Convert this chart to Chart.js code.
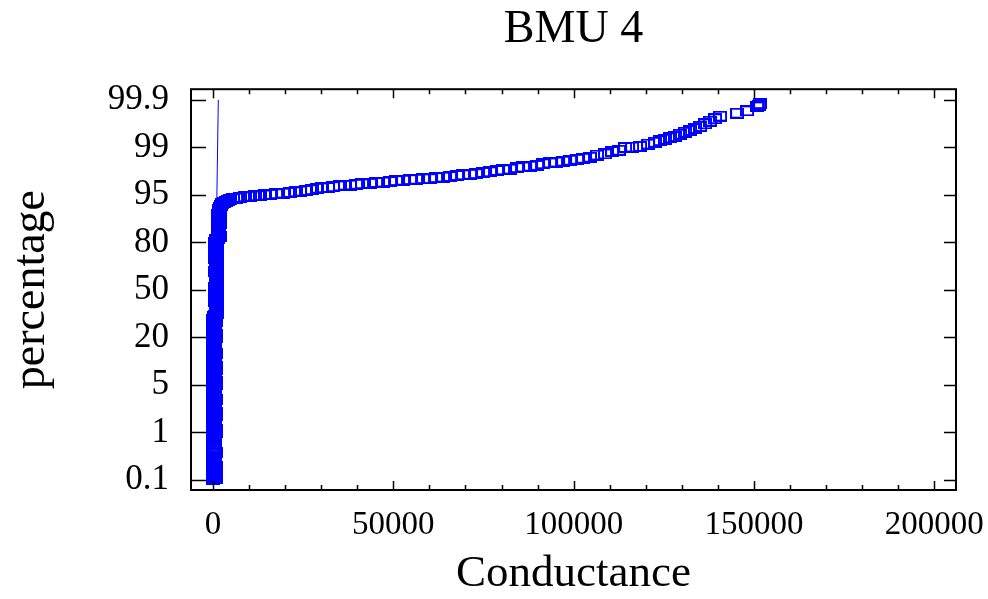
<!DOCTYPE html>
<html>
<head>
<meta charset="utf-8">
<script src="https://cdn.jsdelivr.net/npm/chart.js@4.4.1/dist/chart.umd.min.js"></script>
<style>
  html, body { margin: 0; padding: 0; background: #fff; }
  canvas { display: block; }
</style>
</head>
<body>
<canvas id="chart" width="988" height="599"></canvas>
<script>
// probability axis: tick percentages, drawn evenly spaced
const tickPercent = [0.1, 1, 5, 20, 50, 80, 95, 99, 99.9];
const tickLabels = ['0.1', '1', '5', '20', '50', '80', '95', '99', '99.9'];
const xTicks = [0, 50000, 100000, 150000, 200000];

// dense column of low conductance values
const columnCond = [
  0, 720, 360, 150, 560, 60, 650, 260, 470, 750, 30, 700, 390, 120, 590,
  40, 680, 230, 500, 740, 10, 610, 330, 90, 540, 20, 690, 280, 440, 730,
  0, 720, 360, 150, 560, 60, 650, 260, 470, 750, 30, 700, 390, 120, 590,
  40, 680, 230, 500, 740, 10, 610, 330, 90, 540, 20, 690, 280, 440, 730,
  0, 720, 360, 150, 560, 60, 650, 260, 470, 750, 30, 700, 390, 120, 590,
  40, 680, 230, 500, 740, 10, 610, 330, 90, 540, 20, 690, 280, 440, 730,
  0, 720, 360, 150, 560, 60, 650, 260, 470, 750, 30, 700, 390,
  640, 1190, 900, 760, 1080, 700, 1150, 840, 1000, 660,
  1170, 880, 740, 1060, 680, 1120, 820, 980, 650, 1180,
  920, 770, 1100, 710, 1140, 860, 1020, 670, 1160, 900,
  780, 1090, 720, 1190, 950, 660, 1130, 800, 1040, 690,
  1170, 870, 750, 1070, 640, 1150, 930,
  1300, 1850, 1550, 1400, 1750, 1350, 1800, 1500, 1650, 1900,
  1320, 1700, 1450, 1880, 1600, 1380, 1820
];
const columnPct = [
  0.100, 0.105, 0.11, 0.115, 0.12, 0.13, 0.14, 0.15, 0.16, 0.17,
  0.18, 0.195, 0.21, 0.23, 0.25, 0.27, 0.29, 0.32, 0.35, 0.38,
  0.42, 0.46, 0.5, 0.55, 0.6, 0.67, 0.74, 0.82, 0.9,
  1.0, 1.06, 1.12, 1.19, 1.26, 1.33, 1.41, 1.49, 1.58, 1.67,
  1.77, 1.87, 1.98, 2.09, 2.21, 2.33, 2.46, 2.6, 2.74, 2.89,
  3.05, 3.22, 3.4, 3.58, 3.77, 3.97, 4.18, 4.4, 4.65, 4.9,
  5.0, 5.25, 5.5, 5.8, 6.1, 6.4, 6.7, 7.0, 7.35, 7.7,
  8.1, 8.5, 8.9, 9.3, 9.8, 10.3, 10.8, 11.3, 11.8, 12.4,
  13.0, 13.6, 14.2, 14.9, 15.6, 16.3, 17.0, 17.7, 18.5, 19.3,
  20, 20.8, 21.6, 22.4, 23.2, 24.0, 24.9, 25.8, 26.7, 27.6,
  28.5, 29.5, 30.5, 31.5,
  32.5, 33.5, 34.5, 35.5, 36.5, 37.5, 38.6, 39.7, 40.8, 41.9,
  43, 44.1, 45.2, 46.3, 47.4, 48.5, 49.7, 50.9, 52.1, 53.3,
  54.5, 55.7, 56.9, 58.1, 59.3, 60.5, 61.7, 62.9, 64.1, 65.2,
  66.3, 67.4, 68.5, 69.6, 70.7, 71.7, 72.7, 73.7, 74.7, 75.6,
  76.5, 77.4, 78.3, 79.2, 80.0, 80.8, 81.6,
  82.2, 82.9, 83.6, 84.3, 85.0, 85.6, 86.2, 86.8, 87.4, 88.0,
  88.5, 89.0, 89.5, 90.0, 90.5, 91.0, 91.5
];

// upper tail
const curveCond = [
  1660, 1940, 2220, 2500, 3050, 3600, 4160, 4710, 5550, 6380,
  7490, 8870, 10260, 11650, 13030, 14420, 15810, 17470, 19410, 21350,
  23020, 24130, 25790, 27450, 28840, 30230, 31890, 33280, 35220, 36600,
  37990, 39650, 41320, 43540, 45200, 47140, 49080, 50750, 52690, 54630,
  56290, 58230, 60170, 61840, 63780, 65720, 67660, 69330, 71270, 72930,
  74870, 76810, 78750, 80420, 82360, 84300, 85960, 87900, 89850, 91510,
  93450, 95110, 97060, 99000, 100940, 102600, 104540, 106480, 108700, 110640,
  112580, 114250, 116190, 118410, 120630, 122570, 123950, 125340, 126730, 128120,
  129500, 130890, 132270, 133660, 135050, 136430, 137820, 139210, 140600, 145310,
  148080, 150860, 151410, 151690
];
const curvePct = [
  92.2, 92.7, 93.1, 93.4, 93.7, 93.9, 94.1, 94.25, 94.4, 94.5,
  94.6, 94.7, 94.8, 94.85, 94.9, 95.0, 95.1, 95.2, 95.3, 95.4,
  95.5, 95.6, 95.7, 95.8, 96.0, 96.05, 96.1, 96.2, 96.3, 96.4,
  96.4, 96.5, 96.55, 96.6, 96.7, 96.75, 96.8, 96.9, 96.95, 97.0,
  97.05, 97.1, 97.1, 97.2, 97.25, 97.3, 97.4, 97.45, 97.5, 97.55,
  97.65, 97.7, 97.8, 97.85, 97.9, 98.0, 98.05, 98.1, 98.15, 98.25,
  98.3, 98.35, 98.4, 98.45, 98.5, 98.55, 98.6, 98.7, 98.75, 98.85,
  98.9, 99.0, 99.02, 99.05, 99.15, 99.22, 99.28, 99.33, 99.37, 99.41,
  99.47, 99.52, 99.56, 99.6, 99.64, 99.68, 99.72, 99.75, 99.78, 99.81,
  99.83, 99.86, 99.87, 99.88
];

// fitted line
const fitCond = [-80, 1470];
const fitPct = [0.1, 99.9];

function logit(p) {
  const f = p / 100;
  return Math.log(f / (1 - f));
}
// percent -> position on the evenly spaced tick axis
function toAxis(p) {
  for (let i = 0; i < tickPercent.length - 1; i++) {
    const a = tickPercent[i], b = tickPercent[i + 1];
    if (p <= b || i === tickPercent.length - 2) {
      return i + (logit(p) - logit(a)) / (logit(b) - logit(a));
    }
  }
}

const cond = columnCond.concat(curveCond);
const pct = columnPct.concat(curvePct);
const points = cond.map((c, i) => ({ x: c, y: toAxis(pct[i]) }));
const fitPoints = fitCond.map((c, i) => ({ x: c, y: toAxis(fitPct[i]) }));

// open rectangle marker
const marker = document.createElement('canvas');
marker.width = 14;
marker.height = 11;
const mctx = marker.getContext('2d');
mctx.strokeStyle = '#0000ff';
mctx.lineWidth = 2;
mctx.strokeRect(1, 1, 12, 9);

const serif = 'Liberation Serif';

// frame and inward tick marks on all four sides
const frameTicks = {
  id: 'frameTicks',
  afterDraw(chart) {
    const { ctx, chartArea: a, scales: { x, y } } = chart;
    ctx.save();
    ctx.strokeStyle = '#000';
    ctx.lineWidth = 1.5;
    ctx.beginPath();
    for (let v = 0; v <= 200000; v += 10000) {
      const px = Math.round(x.getPixelForValue(v)) + 0.5;
      const len = v % 50000 === 0 ? 9 : 5;
      ctx.moveTo(px, a.bottom);
      ctx.lineTo(px, a.bottom - len);
      ctx.moveTo(px, a.top);
      ctx.lineTo(px, a.top + len);
    }
    for (let i = 0; i < tickPercent.length; i++) {
      const py = Math.round(y.getPixelForValue(i)) + 0.5;
      ctx.moveTo(a.left, py);
      ctx.lineTo(a.left + 15, py);
      ctx.moveTo(a.right, py);
      ctx.lineTo(a.right - 12, py);
    }
    ctx.stroke();
    ctx.lineWidth = 2;
    ctx.strokeRect(a.left, a.top, a.right - a.left, a.bottom - a.top);
    ctx.restore();
  }
};

const ctx = document.getElementById('chart').getContext('2d');
const chart = new Chart(ctx, {
  type: 'scatter',
  data: {
    datasets: [{
      label: 'fit',
      type: 'line',
      data: fitPoints,
      borderColor: '#0000ff',
      borderWidth: 1,
      pointRadius: 0,
      fill: false
    }, {
      label: 'BMU 4',
      data: points,
      pointStyle: marker,
      pointRadius: 5,
      borderColor: '#0000ff',
      backgroundColor: '#0000ff'
    }]
  },
  plugins: [frameTicks],
  options: {
    responsive: false,
    animation: false,
    devicePixelRatio: 1,
    layout: { padding: { left: 0, right: 32, top: 0, bottom: 0 } },
    plugins: {
      legend: { display: false },
      tooltip: { enabled: false },
      title: {
        display: true,
        text: 'BMU 4',
        fullSize: false,
        color: '#000',
        font: { family: serif, size: 46, weight: 'normal' },
        padding: { top: 2, bottom: 32 }
      }
    },
    scales: {
      x: {
        type: 'linear',
        min: -6100,
        max: 206000,
        grid: { display: false },
        border: { display: false },
        afterBuildTicks: (axis) => { axis.ticks = xTicks.map(v => ({ value: v })); },
        afterFit: (axis) => { axis.height = 109; axis.paddingLeft = 0; axis.paddingRight = 0; },
        ticks: {
          color: '#000',
          font: { family: serif, size: 33 },
          padding: 8,
          maxRotation: 0,
          autoSkip: false,
          callback: (v) => String(v)
        },
        title: {
          display: true,
          text: 'Conductance',
          color: '#000',
          font: { family: serif, size: 45, lineHeight: 1.0 },
          padding: { top: 0, bottom: 2 }
        }
      },
      y: {
        type: 'linear',
        min: -0.211,
        max: 8.226,
        grid: { display: false },
        border: { display: false },
        afterBuildTicks: (axis) => { axis.ticks = tickLabels.map((_, i) => ({ value: i })); },
        afterFit: (axis) => { axis.width = 191; axis.paddingTop = 0; axis.paddingBottom = 0; },
        ticks: {
          color: '#000',
          font: { family: serif, size: 35 },
          padding: 14,
          autoSkip: false,
          callback: (v) => tickLabels[v]
        },
        title: {
          display: true,
          text: 'percentage',
          color: '#000',
          font: { family: serif, size: 46 },
          padding: { top: 4, bottom: 0 }
        }
      }
    }
  }
});
</script>
</body>
</html>
